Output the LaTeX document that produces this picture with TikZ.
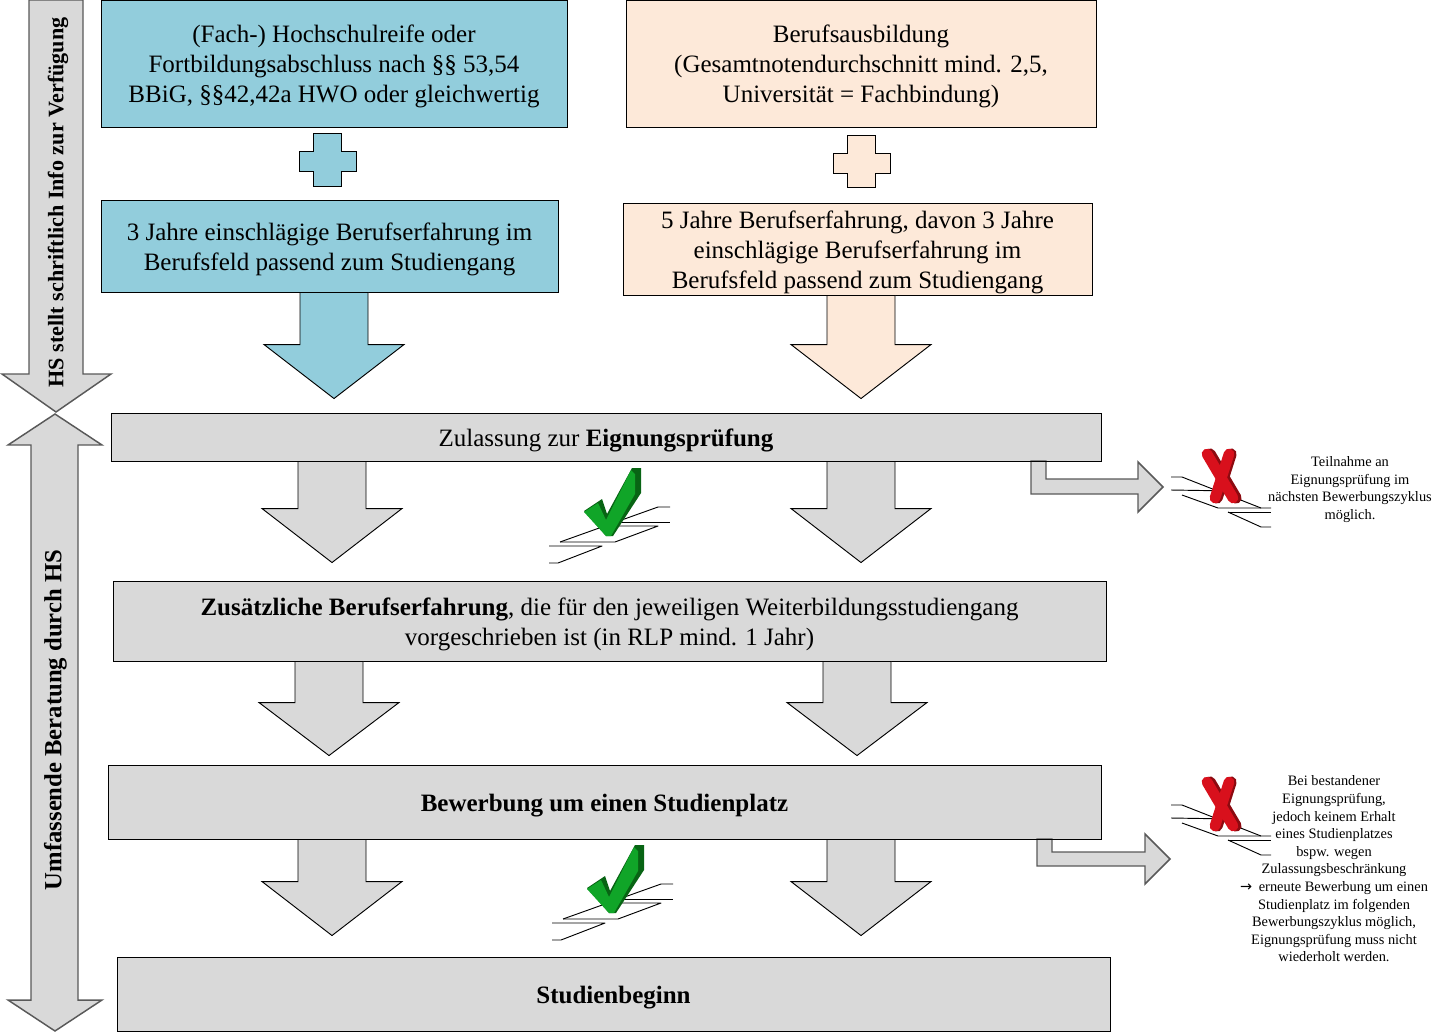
\documentclass[tikz,border=0pt]{standalone}
\usepackage{fontspec}
\setmainfont{Liberation Serif}
\newfontfamily\arrowfont{DejaVu Sans}
\usetikzlibrary{calc}
\definecolor{cblue}{RGB}{146,205,220}
\definecolor{cpeach}{RGB}{253,233,217}
\definecolor{cgray}{RGB}{217,217,217}
\definecolor{cgreen}{RGB}{16,165,40}
\definecolor{cdgreen}{RGB}{8,100,20}
\definecolor{cred}{RGB}{216,16,28}
\definecolor{cdred}{RGB}{140,10,16}
\tikzset{
  x=0.75pt,y=-0.75pt,
  bigtext/.style={font=\fontsize{18.75}{22.5}\selectfont,text=black},
  smalltext/.style={font=\fontsize{10.8}{13.2}\selectfont,align=center,text=black,inner sep=0pt},
  sidetext/.style={rotate=90,inner sep=0pt,text=black},
  shapeline/.style={draw=black,line width=0.7pt,line join=miter},
  blueshape/.style={shapeline,fill=cblue},
  peachshape/.style={shapeline,fill=cpeach},
  grayshape/.style={shapeline,fill=cgray},
  softshape/.style={draw=black!65,line width=1.1pt,fill=cgray},
  stairline/.style={draw=black,line width=0.7pt,line join=round},
}
% box: name, style, x1, y1, x2, y2, text
\newcommand\bx[7]{\node[#2,bigtext,inner sep=0pt,minimum width={(#5-#3)*0.75pt},minimum height={(#6-#4)*0.75pt}] (#1) at ({(#3+#5)/2},{(#4+#6)/2}) {\raisebox{-2.25pt}[\height][\depth]{\begin{tabular}{@{}c@{}}#7\end{tabular}}};}
% block arrow: style, from, to, centre x, head length, gap above target
\newcommand\dnblock[6]{%
  \path (#4,0 |- #2.south) coordinate (tp);
  \path ($(#4,0 |- #3.north)+(0,-#6)$) coordinate (tipc);
  \draw[#1] ($(tp)+(-34,0)$) -- ($(tp)+(34,0)$) -- ($(tipc)+(34,-#5)$) -- ($(tipc)+(70,-#5)$) -- (tipc)
    -- ($(tipc)+(-70,-#5)$) -- ($(tipc)+(-34,-#5)$) -- cycle;}
\newcommand\stairs[2]{\begin{scope}[shift={(#1,#2)}]
  \draw[stairline] (0,0) -- (11,0) -- (90,31) -- (100,31);
  \draw[stairline] (0,13) -- (62,14);
  \draw[stairline] (11,18) -- (47,31) -- (90,31);
  \draw[stairline] (57,35) -- (100,35);
  \draw[stairline] (57,35) -- (90,50) -- (100,50);
\end{scope}}
\newcommand\redx[2]{\begin{scope}[shift={(#1,#2)}]
  \draw[cdred,line width=8.5pt,line cap=round] (39,-23) -- (65,21);
  \draw[cdred,line width=8.5pt,line cap=round] (60,-23) -- (46,21);
  \draw[cred,line width=8pt,line cap=round] (36,-23) -- (62,21);
  \draw[cred,line width=8pt,line cap=round] (58,-23) -- (44,21);
\end{scope}}
\newcommand\tickicon[2]{\begin{scope}[shift={(#1,#2)}]
  \draw[stairline] (549,546) -- (602,546) -- (558,563) -- (549,563);
  \draw[stairline] (560,542) -- (615,542) -- (658,526) -- (617,526);
  \draw[stairline] (560,542) -- (658,507) -- (670,507);
  \draw[stairline] (618,522) -- (670,522);
  \fill[cdgreen] (584,511) -- (602,499) -- (607,514) -- (632,468) -- (641,468) -- (641,493) -- (613,536) -- (606,536) -- cycle;
  \fill[cgreen] (584,512) -- (598,503) -- (606,520) -- (631,470) -- (635,474) -- (635,494) -- (611,536) -- (606,536) -- cycle;
\end{scope}}
\begin{document}
\begin{tikzpicture}
\useasboundingbox (0,0) rectangle (1453,1033);
% left side arrows
\draw[softshape] (29,0) -- (83,0) -- (83,374) -- (111,374) -- (56,412) -- (2,374) -- (29,374) -- cycle;
\draw[softshape] (55,414) -- (102,445) -- (78,445) -- (78,1000) -- (102,1000) -- (55,1031) -- (8,1000) -- (31,1000) -- (31,445) -- (8,445) -- cycle;
\node[sidetext,font=\fontsize{16.6}{20}\selectfont\bfseries] (hsinfo) at (58,202.5) {HS stellt schriftlich Info zur Verfügung};
\node[sidetext,font=\fontsize{18.5}{20}\selectfont\bfseries] (beratung) at (55.5,720) {Umfassende Beratung durch HS};
% boxes
\bx{a1}{blueshape}{101}{0}{567}{127}{(Fach-) Hochschulreife oder\\Fortbildungsabschluss nach §§ 53,54\\BBiG, §§42,42a HWO oder gleichwertig}
\bx{a2}{blueshape}{101}{200}{558}{292}{3 Jahre einschlägige Berufserfahrung im\\Berufsfeld passend zum Studiengang}
\bx{b1}{peachshape}{626}{0}{1096}{127}{Berufsausbildung\\(Gesamtnotendurchschnitt mind. 2,5,\\Universität = Fachbindung)}
\bx{b2}{peachshape}{623}{203}{1092}{295}{5 Jahre Berufserfahrung, davon 3 Jahre\\einschlägige Berufserfahrung im\\Berufsfeld passend zum Studiengang}
\bx{c1}{grayshape}{111}{413}{1101}{461}{Zulassung zur \textbf{Eignungsprüfung}}
\bx{c2}{grayshape}{113}{581}{1106}{661}{\textbf{Zusätzliche Berufserfahrung}, die für den jeweiligen Weiterbildungsstudiengang\\vorgeschrieben ist (in RLP mind. 1 Jahr)}
\bx{c3}{grayshape}{108}{765}{1101}{839}{\textbf{Bewerbung um einen Studienplatz}}
\bx{c4}{grayshape}{117}{957}{1110}{1031}{\textbf{Studienbeginn}}
% plus signs
\draw[blueshape] (313,133) -- (341,133) -- (341,151) -- (356,151) -- (356,171) -- (341,171) -- (341,186) -- (313,186) -- (313,171) -- (299,171) -- (299,151) -- (313,151) -- cycle;
\draw[peachshape] (847,135) -- (875,135) -- (875,153) -- (890,153) -- (890,173) -- (875,173) -- (875,187) -- (847,187) -- (847,173) -- (833,173) -- (833,153) -- (847,153) -- cycle;
% block arrows
\dnblock{blueshape}{a2}{c1}{334}{54}{14}
\dnblock{peachshape}{b2}{c1}{861}{54}{14}
\dnblock{grayshape}{c1}{c2}{332}{54}{18}
\dnblock{grayshape}{c1}{c2}{861}{54}{18}
\dnblock{grayshape}{c2}{c3}{329}{53}{9}
\dnblock{grayshape}{c2}{c3}{857}{53}{9}
\dnblock{grayshape}{c3}{c4}{332}{54}{21}
\dnblock{grayshape}{c3}{c4}{861}{54}{21}
% bent arrows
\draw[softshape] (1031,461) -- (1046,461) -- (1046,479) -- (1138,479) -- (1138,462) -- (1163,487) -- (1138,512) -- (1138,494) -- (1031,494) -- cycle;
\draw[softshape] (1037,839) -- (1052,839) -- (1052,852) -- (1145,852) -- (1145,834) -- (1170,859) -- (1145,884) -- (1145,866) -- (1037,866) -- cycle;
\draw[black,line width=0.7pt] (c1.south east) -- (c1.south west);
\draw[black,line width=0.7pt] (c3.south east) -- (c3.south west);
% icons
\stairs{1171}{477}
\redx{1171}{477}
\stairs{1171}{805}
\redx{1171}{805}
\tickicon{0}{0}
\tickicon{3}{377}
% side notes
\node[smalltext] (note1) at (1350,489.5) {Teilnahme an\\Eignungsprüfung im\\nächsten Bewerbungszyklus\\möglich.};
\node[smalltext] (note2) at (1334,869) {Bei bestandener\\Eignungsprüfung,\\jedoch keinem Erhalt\\eines Studienplatzes\\bspw. wegen\\Zulassungsbeschränkung\\{\arrowfont →}\hspace{5pt}erneute Bewerbung um einen\\Studienplatz im folgenden\\Bewerbungszyklus möglich,\\Eignungsprüfung muss nicht\\wiederholt werden.};
\end{tikzpicture}
\end{document}
